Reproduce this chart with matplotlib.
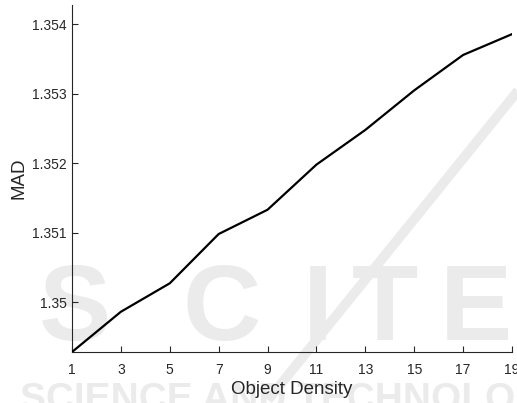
import numpy as np
import matplotlib
matplotlib.use('Agg')
import matplotlib.pyplot as plt

plt.rcParams['font.family'] = ['Liberation Sans', 'DejaVu Sans']

# MAD against object density
density = [1, 3, 5, 7, 9, 11, 13, 15, 17, 19]
mad = [1.34928, 1.34986, 1.35027, 1.35098, 1.35133, 1.35198, 1.35248, 1.35305, 1.35356, 1.35386]
y_ticks = [1.35, 1.351, 1.352, 1.353, 1.354]
y_tick_labels = ['1.35', '1.351', '1.352', '1.353', '1.354']

W, H = 517, 403
fig = plt.figure(figsize=(W / 100, H / 100), dpi=100)

# faint publisher watermark, kept under the axes
wm = '#ebebeb'
for letter, cx in zip('SCITE', [75, 222, 318, 385, 476]):
    fig.text(cx / W, 1 - 340 / H, letter, color=wm, fontsize=78, fontweight='bold',
             ha='center', va='baseline', zorder=-1)
fig.text(20 / W, 1 - 382 / H, 'SCIENCE AND TECHNOLOGY', color=wm, fontsize=28,
         fontweight='bold', ha='left', va='top', zorder=-1)
fig.add_artist(plt.Line2D([268 / W, 525 / W], [1 - 400 / H, 1 - 82 / H], color=wm,
                          lw=7, zorder=-1, solid_capstyle='butt', transform=fig.transFigure))

ax = fig.add_axes([72 / W, 1 - 352 / H, 440 / W, 347 / H])
ax.patch.set_alpha(0)
ax.plot(density, mad, color='black', lw=1.6, zorder=3)

ax.set_xlim(1, 19)
ax.set_ylim(mad[0], mad[0] + 0.005)
ax.set_xticks(density)
ax.set_yticks(y_ticks)
ax.set_yticklabels(y_tick_labels)
ax.tick_params(direction='in', length=4, width=0.8, labelsize=10, colors='#262626', pad=4)
ax.tick_params(axis='x', pad=8)

for side in ['top', 'right']:
    ax.spines[side].set_visible(False)
for side in ['left', 'bottom']:
    ax.spines[side].set_color('#262626')
    ax.spines[side].set_linewidth(0.8)

ax.set_xlabel('Object Density', fontsize=13.5, color='#262626', labelpad=3)
ax.set_ylabel('MAD', fontsize=13.5, color='#262626', labelpad=3)

fig.savefig('out.png', dpi=100)
